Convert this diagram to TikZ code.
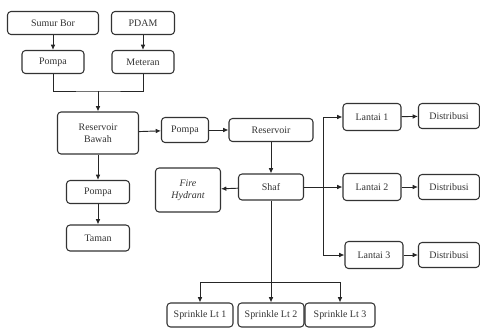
\documentclass[tikz,border=0pt]{standalone}
\usepackage{fontspec}
\setmainfont{Liberation Serif}
\usetikzlibrary{arrows.meta}
\begin{document}
\begin{tikzpicture}[x=0.03cm,y=-0.03cm,
  box/.style={draw=black!80,line width=0.9pt,rounded corners=3pt,fill=white,
              minimum height=0.69cm,inner sep=1pt,text=black!80,align=center},
  link/.style={draw=black!85,line width=0.8pt},
  arrow/.style={link,-{Latex[length=4.5pt,width=4pt]}},
  every node/.style={font=\fontsize{8.5}{10}\selectfont}]
\path[use as bounding box] (0,0) rectangle (480,329);
% supply
\node[box,minimum width=2.73cm] (sumur) at (53,23) {Sumur Bor};
\node[box,minimum width=1.89cm] (pdam) at (143,23) {PDAM};
\node[box,minimum width=1.86cm] (pompaA) at (53,62) {Pompa};
\node[box,minimum width=1.86cm] (meteran) at (143,62) {Meteran};
\coordinate (merge) at (98,91);
% lower reservoir
\node[box,minimum width=2.43cm,minimum height=1.26cm] (resbawah) at (98,133) {Reservoir\\Bawah};
\node[box,minimum width=1.41cm,minimum height=0.75cm] (pompaB) at (185,130) {Pompa};
\node[box,minimum width=2.52cm] (reservoir) at (271,130) {Reservoir};
\node[box,minimum width=1.89cm] (pompaC) at (98,192) {Pompa};
\node[box,minimum width=1.89cm,minimum height=0.78cm] (taman) at (98,238) {Taman};
% shaft
\node[box,minimum width=1.95cm,minimum height=0.78cm] (shaf) at (271,187) {Shaf};
\node[box,minimum width=1.95cm,minimum height=1.32cm] (hydrant) at (188,190) {\itshape Fire\\\itshape Hydrant};
\coordinate (bus) at (323,187);
\node[box,minimum width=1.74cm,minimum height=0.81cm] (lantai1) at (372,117) {Lantai 1};
\node[box,minimum width=1.74cm,minimum height=0.81cm] (lantai2) at (372,187) {Lantai 2};
\node[box,minimum width=1.74cm,minimum height=0.81cm] (lantai3) at (374,255) {Lantai 3};
\node[box,minimum width=1.83cm,minimum height=0.75cm] (dist1) at (449,116) {Distribusi};
\node[box,minimum width=1.83cm,minimum height=0.75cm] (dist2) at (449,187) {Distribusi};
\node[box,minimum width=1.83cm,minimum height=0.75cm] (dist3) at (449,255) {Distribusi};
% sprinkler
\coordinate (sprk) at (271,282);
\node[box,minimum width=1.98cm,minimum height=0.72cm] (spr1) at (200,315) {Sprinkle Lt 1};
\node[box,minimum width=1.98cm,minimum height=0.72cm] (spr2) at (271,315) {Sprinkle Lt 2};
\node[box,minimum width=2.1cm,minimum height=0.72cm] (spr3) at (340,315) {Sprinkle Lt 3};
% connectors
\draw[arrow] (sumur) -- (pompaA);
\draw[arrow] (pdam) -- (meteran);
\draw[link] (pompaA.south) |- (merge) -| (meteran.south);
\draw[arrow] (merge) -- (resbawah.north);
\draw[arrow] (resbawah) -- (pompaB);
\draw[arrow] (pompaB) -- (reservoir);
\draw[arrow] (resbawah) -- (pompaC);
\draw[arrow] (pompaC) -- (taman);
\draw[arrow] (reservoir) -- (shaf);
\draw[arrow] (shaf) -- (hydrant);
\draw[arrow] (shaf) -- (lantai2);
\draw[link] (bus |- lantai1.west) -- (bus |- lantai3.west);
\draw[arrow] (bus |- lantai1.west) -- (lantai1.west);
\draw[arrow] (bus |- lantai3.west) -- (lantai3.west);
\draw[arrow] (lantai1) -- (dist1);
\draw[arrow] (lantai2) -- (dist2);
\draw[arrow] (lantai3) -- (dist3);
\draw[arrow] (shaf) -- (spr2);
\draw[arrow] (sprk) -| (spr1.north);
\draw[arrow] (sprk) -| (spr3.north);
\end{tikzpicture}
\end{document}
